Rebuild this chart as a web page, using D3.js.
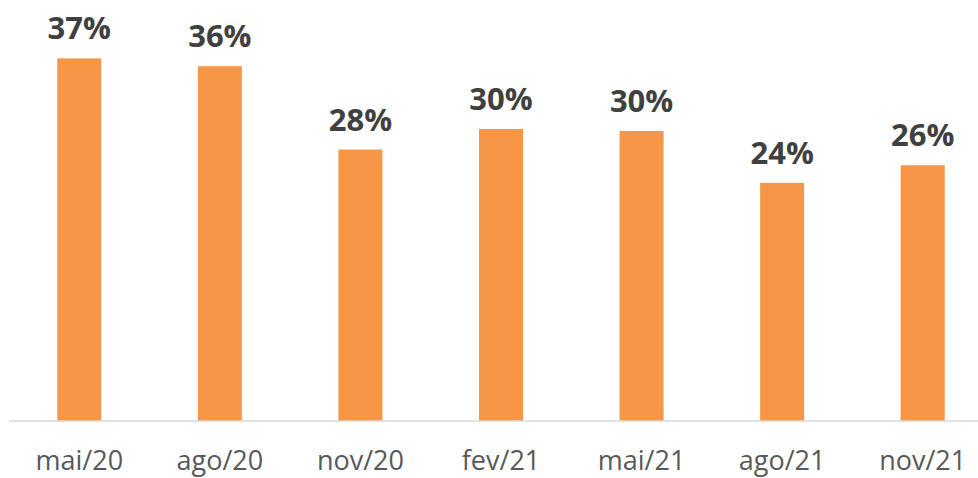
<!DOCTYPE html>
<html>
<head>
<meta charset="utf-8">
<script src="https://cdn.jsdelivr.net/npm/d3@7"></script>
<style>
	body { margin: 0; background: #fff; }
	svg { display: block; font-family: 'Open Sans', sans-serif; }
</style>
</head>
<body>
<svg id="chart" width="978" height="478"></svg>
<script>
const months = ['mai/20', 'ago/20', 'nov/20', 'fev/21', 'mai/21', 'ago/21', 'nov/21'];
const shares = [0.370, 0.362, 0.277, 0.298, 0.296, 0.243, 0.261];

const BAR_COLOR = '#F79646';
const width = 978;
const baseline = 421;

const $svg = d3.select('#chart');

const x = d3
	.scaleBand()
	.domain(months)
	.range([9, 993])
	.paddingInner(0.687)
	.paddingOuter(0.3435);

const y = d3
	.scaleLinear()
	.domain([0, 0.4])
	.range([baseline, 29]);

const fmt = d3.format('.0%');

const data = months.map((m, i) => ({ month: m, value: shares[i] }));

// bars
$svg
	.append('g')
	.selectAll('rect')
	.data(data)
	.join('rect')
	.attr('x', d => x(d.month))
	.attr('y', d => y(d.value))
	.attr('width', x.bandwidth())
	.attr('height', d => y(0) - y(d.value))
	.attr('fill', BAR_COLOR);

// value labels
$svg
	.append('g')
	.selectAll('text')
	.data(data)
	.join('text')
	.attr('x', d => x(d.month) + x.bandwidth() / 2)
	.attr('y', d => y(d.value) - 19)
	.attr('text-anchor', 'middle')
	.attr('font-size', 31)
	.attr('font-weight', 700)
	.attr('fill', '#404040')
	.text(d => fmt(d.value));

// x axis
const axis = $svg
	.append('g')
	.attr('transform', `translate(0,${baseline})`)
	.call(d3.axisBottom(x).tickSize(0).tickPadding(0));

axis.select('.domain').remove();
axis
	.append('line')
	.attr('x1', 9)
	.attr('x2', width)
	.attr('stroke', '#d9d9d9')
	.attr('stroke-width', 1.5);

axis
	.selectAll('.tick text')
	.attr('dy', 0)
	.attr('y', 49)
	.attr('font-size', 27)
	.attr('font-family', "'Open Sans', sans-serif")
	.attr('fill', '#595959');
</script>
</body>
</html>
